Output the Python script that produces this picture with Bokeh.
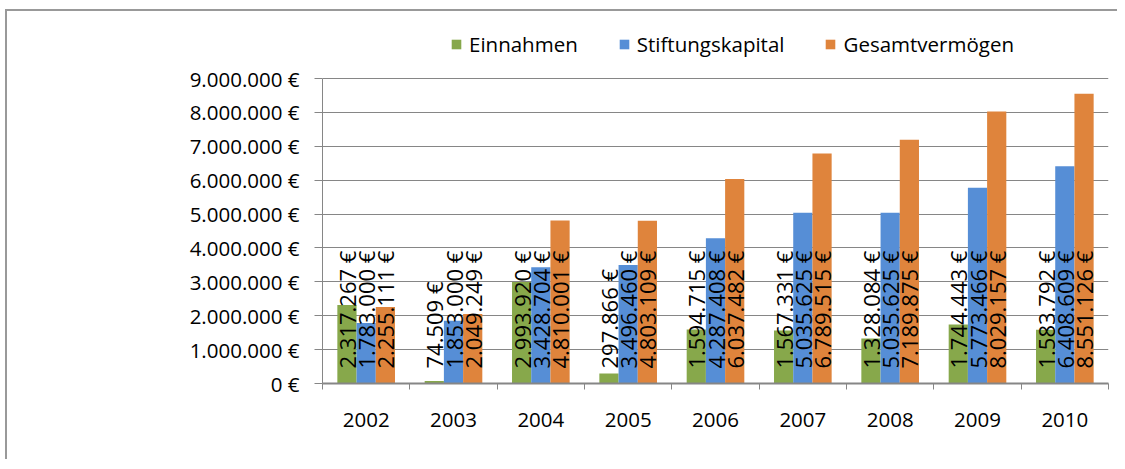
import math
from bokeh.plotting import figure
from bokeh.layouts import column, row
from bokeh.models import Range1d, FixedTicker, Legend, LegendItem, ColumnDataSource, Spacer
from bokeh.transform import dodge
from bokeh.core.properties import value
from bokeh.embed import file_html
from bokeh.resources import INLINE

years = ["2002", "2003", "2004", "2005", "2006", "2007", "2008", "2009", "2010"]
einnahmen = [2317267, 74509, 2993920, 297866, 1594715, 1567331, 1328084, 1744443, 1583792]
stiftungskapital = [1783000, 1853000, 3428704, 3496460, 4287408, 5035625, 5035625, 5773466, 6408609]
gesamtvermoegen = [2255111, 2049249, 4810001, 4803109, 6037482, 6789515, 7189875, 8029157, 8551126]
y_ticks = [0, 1000000, 2000000, 3000000, 4000000, 5000000, 6000000, 7000000, 8000000, 9000000]
y_tick_labels = ["0 €", "1.000.000 €", "2.000.000 €", "3.000.000 €", "4.000.000 €",
                 "5.000.000 €", "6.000.000 €", "7.000.000 €", "8.000.000 €", "9.000.000 €"]
series_names = ["Einnahmen", "Stiftungskapital", "Gesamtvermögen"]
colors = ["#87A84B", "#568ED6", "#DF843C"]

FONT = "Open Sans"
GREY = "#868686"


def fmt(v):
    return f"{v:,}".replace(",", ".") + " €"


centers = [i + 0.5 for i in range(len(years))]
src = ColumnDataSource(dict(
    x=centers,
    e=einnahmen, s=stiftungskapital, g=gesamtvermoegen,
    le=[fmt(v) for v in einnahmen],
    ls=[fmt(v) for v in stiftungskapital],
    lg=[fmt(v) for v in gesamtvermoegen],
))

# frame spans from image y=25 to y=383; 9.000.000 sits at y=78
y_top = 9000000 * (383 - 25) / (383 - 78)

p = figure(width=1112, height=450,
           x_range=Range1d(0, len(years)), y_range=Range1d(0, y_top),
           output_backend="svg", toolbar_location=None,
           min_border_left=315, min_border_right=11, min_border_top=14, min_border_bottom=78)
p.outline_line_color = None
p.background_fill_color = "white"
p.border_fill_color = "white"
p.styles = {"border-top": "2px solid #999999", "border-left": "2px solid #999999"}

bw = 0.22
offsets = [-bw, 0, bw]
fields = ["e", "s", "g"]
lab_fields = ["le", "ls", "lg"]
renderers = []
for f, off, c in zip(fields, offsets, colors):
    r = p.vbar(x=dodge("x", off, range=p.x_range), top=f, width=bw, bottom=0,
               source=src, fill_color=c, line_color=None)
    renderers.append(r)
for lf, off in zip(lab_fields, offsets):
    p.text(x=dodge("x", off, range=p.x_range), y=0, text=lf, source=src,
           angle=math.pi / 2, y_offset=-15, text_align="left", text_baseline="middle",
           text_font=value(FONT), text_font_size="22px", text_color="black")

# x axis
p.xaxis.ticker = FixedTicker(ticks=centers, minor_ticks=list(range(len(years) + 1)))
p.xaxis.major_label_overrides = {c: y for c, y in zip(centers, years)}
p.xaxis.major_tick_line_color = None
p.xaxis.major_tick_out = 0
p.xaxis.major_tick_in = 0
p.xaxis.minor_tick_line_color = GREY
p.xaxis.minor_tick_out = 6
p.xaxis.minor_tick_in = 0
p.xaxis.axis_line_color = GREY
p.xaxis.axis_line_width = 2
p.xaxis.major_label_standoff = 23
p.xaxis.major_label_text_font = FONT
p.xaxis.major_label_text_font_size = "20.5px"
p.xaxis.major_label_text_color = "black"
p.xgrid.visible = False

# y axis
p.yaxis.ticker = FixedTicker(ticks=y_ticks)
p.yaxis.bounds = (0, 9000000)
p.yaxis.major_label_overrides = {t: l for t, l in zip(y_ticks, y_tick_labels)}
p.yaxis.minor_tick_line_color = None
p.yaxis.major_tick_line_color = GREY
p.yaxis.major_tick_out = 8
p.yaxis.major_tick_in = 0
p.yaxis.axis_line_color = GREY
p.yaxis.axis_line_width = 1
p.yaxis.major_label_standoff = 15
p.yaxis.major_label_text_font = FONT
p.yaxis.major_label_text_font_size = "20.5px"
p.yaxis.major_label_text_color = "black"
p.ygrid.grid_line_color = GREY
p.ygrid.grid_line_width = 1

legend = Legend(items=[LegendItem(label=n, renderers=[r]) for n, r in zip(series_names, renderers)],
                orientation="horizontal", location=(128, 325),
                glyph_width=12, glyph_height=12, label_standoff=7, spacing=40,
                padding=0, margin=0, border_line_color=None, background_fill_alpha=0,
                label_text_font=FONT, label_text_font_size="20.5px", label_text_color="black")
p.add_layout(legend, "center")

layout = column(Spacer(height=9, width=5), row(Spacer(width=5, height=10), p))
open("out.html", "w").write(file_html(layout, INLINE))
